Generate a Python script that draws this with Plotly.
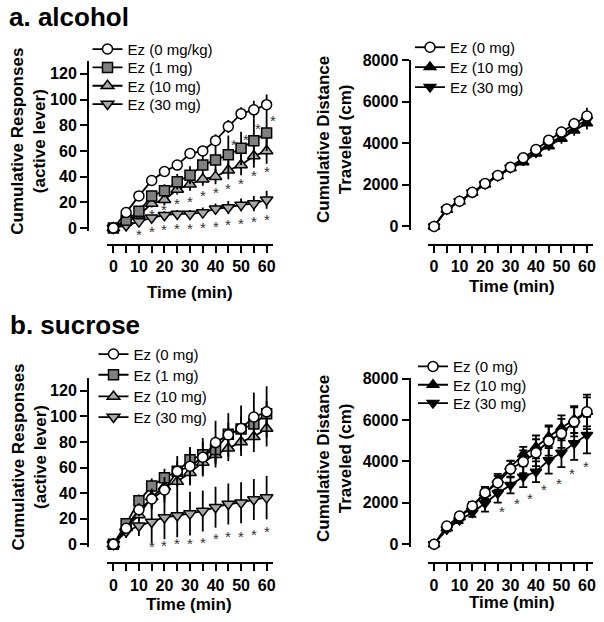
import plotly.graph_objects as go

# ---------------- data ----------------
times = [0, 5, 10, 15, 20, 25, 30, 35, 40, 45, 50, 55, 60]

# a. alcohol - cumulative responses (active lever)
alc_resp_0 = [0, 12, 25, 37, 44, 49, 58, 60, 68, 79, 89, 92, 96]
alc_resp_1 = [0, 6, 13, 25, 29, 36, 41, 49, 53, 57, 62, 68, 74]
alc_resp_10 = [0, 5, 10, 19, 22, 30, 34, 38, 40, 45, 49, 56, 60]
alc_resp_30 = [0, 2, 5, 8, 10, 11, 11, 12, 15, 16, 18, 19, 22]
alc_resp_0_sem = [0, 2, 3, 3, 3, 3, 3, 4, 5, 5, 5, 7, 8]
alc_resp_1_sem = [0, 2, 3, 4, 5, 6, 7, 8, 10, 15, 13, 17, 14]
alc_resp_10_sem = [0, 1, 2, 3, 4, 4, 5, 5, 6, 7, 8, 9, 10]
alc_resp_30_sem = [0, 1, 2, 2, 3, 3, 3, 4, 4, 5, 5, 6, 7]
alc_star_hi_t = [47.1, 52.0, 56.8, 62.5]
alc_star_hi_v = [67.8, 72.0, 80.5, 87.0]
alc_star_10_t = [15, 20, 25, 30, 35, 40, 45, 50, 55, 60]
alc_star_10_v = [14.0, 17.8, 22.1, 23.8, 28.4, 31.0, 34.1, 37.4, 43.8, 47.3]
alc_star_30_t = [10, 15, 20, 25, 30, 35, 40, 45, 50, 55, 60]
alc_star_30_v = [-1.8, 0.8, 2.2, 3.1, 3.1, 3.6, 4.6, 5.7, 7.0, 8.3, 9.8]

# a. alcohol - cumulative distance (cm)
alc_dist_0 = [0, 840, 1210, 1640, 2060, 2450, 2850, 3300, 3700, 4150, 4540, 4940, 5310]
alc_dist_10 = [0, 800, 1200, 1620, 2020, 2420, 2800, 3090, 3510, 3860, 4220, 4620, 4960]
alc_dist_30 = [0, 820, 1210, 1630, 2040, 2430, 2820, 3220, 3570, 3950, 4350, 4800, 5120]
alc_dist_0_sem = [0, 80, 100, 120, 140, 150, 170, 190, 210, 230, 260, 290, 400]
alc_dist_10_sem = [0, 70, 90, 110, 130, 140, 160, 180, 200, 220, 240, 260, 300]
alc_dist_30_sem = [0, 70, 90, 110, 130, 140, 160, 180, 200, 220, 240, 260, 300]

# b. sucrose - cumulative responses (active lever)
suc_resp_0 = [0, 12.5, 27, 35.5, 42.5, 57, 61, 68, 79.5, 85.5, 90.5, 99.5, 103.5]
suc_resp_1 = [0, 16, 34, 45.5, 52, 57, 66, 70, 74, 86, 90, 94, 102]
suc_resp_10 = [0, 13, 23, 37, 45, 49, 56, 64, 70, 75, 80, 84, 90.5]
suc_resp_30 = [0, 10, 14.5, 17.5, 21, 22.5, 24, 26, 29, 31.5, 32.5, 35, 36.5]
suc_resp_0_sem = [0, 3, 5, 8, 10, 12, 14, 15, 17, 17, 18, 19, 20]
suc_resp_1_sem = [0, 3, 5, 6, 7, 8, 10, 10, 10, 9, 10, 10, 10]
suc_resp_10_sem = [0, 3, 5, 8, 9, 10, 10, 10, 10, 10, 11, 12, 14]
suc_resp_30_sem = [0, 5, 8, 17, 17, 17, 17, 16, 16, 16, 16, 16, 17]
suc_star_30_t = [15, 20, 25, 30, 35, 40, 45, 50, 55, 60]
suc_star_30_v = [1.3, 2.6, 3.4, 3.9, 4.7, 7.3, 9.4, 9.4, 11.2, 13.0]

# b. sucrose - cumulative distance (cm)
suc_dist_0 = [0, 880, 1360, 1850, 2490, 2970, 3630, 3980, 4420, 4980, 5350, 5910, 6390]
suc_dist_10 = [0, 770, 1300, 1820, 2460, 3100, 3740, 4350, 4700, 5190, 5620, 6020, 6390]
suc_dist_30 = [0, 720, 1170, 1530, 1980, 2460, 2860, 3260, 3500, 4060, 4420, 4870, 5270]
suc_dist_0_sem = [0, 100, 150, 200, 280, 330, 400, 550, 650, 700, 700, 700, 830]
suc_dist_10_sem = [0, 100, 150, 200, 280, 300, 300, 350, 550, 550, 600, 650, 700]
suc_dist_30_sem = [0, 100, 150, 200, 400, 450, 400, 500, 500, 650, 700, 800, 880]
suc_dstar_t = [26.5, 32.6, 37.8, 43.3, 48.9, 54.1, 59.7]
suc_dstar_v = [1770, 2140, 2410, 2860, 3150, 3610, 3940]

# ---------------- layout helpers ----------------
FONT = "Arial, Liberation Sans, sans-serif"
W, H = 604, 622


def px(x):
    return x / W


def py(y):
    return 1 - y / H


fig = go.Figure()
legends = {}
_leg_count = [0]


def add_series(ax, lx, ly, name, y, err, symbol, fill, size, capw):
    _leg_count[0] += 1
    n = _leg_count[0]
    key = "legend" if n == 1 else "legend%d" % n
    legends[key] = dict(x=px(lx - 20), y=py(ly), xanchor="left", yanchor="middle",
                        bgcolor="rgba(0,0,0,0)", itemwidth=30,
                        font=dict(family=FONT, size=15, color="black"))
    fig.add_trace(go.Scatter(
        x=times, y=y, name=name, mode="lines+markers",
        xaxis="x" + ax, yaxis="y" + ax, legend=key,
        line=dict(color="black", width=1.8),
        marker=dict(symbol=symbol, size=size, color=fill,
                    line=dict(color="black", width=1.5)),
        error_y=dict(type="data", array=err, visible=True, color="black",
                     thickness=1.8, width=capw),
        cliponaxis=False,
    ))


def add_stars(ax, ts, vs):
    for t, v in zip(ts, vs):
        fig.add_annotation(x=t, y=v, xref="x" + ax, yref="y" + ax, text="*",
                           showarrow=False, yshift=-4,
                           font=dict(family=FONT, size=15, color="#333"))


GRAY_SQ = "#808080"
GRAY_TRI = "#a8a8a8"

# Top-left (drawn back to front)
add_series("", 107.5, 104.3, "Ez (30 mg)", alc_resp_30, alc_resp_30_sem, "triangle-down", GRAY_TRI, 11, 0)
add_series("", 107.5, 86.0, "Ez (10 mg)", alc_resp_10, alc_resp_10_sem, "triangle-up", GRAY_TRI, 11, 0)
add_series("", 107.5, 67.7, "Ez (1 mg)", alc_resp_1, alc_resp_1_sem, "square", GRAY_SQ, 10, 0)
add_series("", 107.5, 49.3, "Ez (0 mg/kg)", alc_resp_0, alc_resp_0_sem, "circle", "white", 10, 0)
add_stars("", alc_star_hi_t, alc_star_hi_v)
add_stars("", alc_star_10_t, alc_star_10_v)
add_stars("", alc_star_30_t, alc_star_30_v)

# Top-right
add_series("2", 430, 87.3, "Ez (30 mg)", alc_dist_30, alc_dist_30_sem, "triangle-down", "black", 10, 0)
add_series("2", 430, 67.3, "Ez (10 mg)", alc_dist_10, alc_dist_10_sem, "triangle-up", "black", 10, 0)
add_series("2", 430, 47.5, "Ez (0 mg)", alc_dist_0, alc_dist_0_sem, "circle", "white", 10, 0)

# Bottom-left
add_series("3", 113.5, 417.3, "Ez (30 mg)", suc_resp_30, suc_resp_30_sem, "triangle-down", GRAY_TRI, 11, 0)
add_series("3", 113.5, 396.7, "Ez (10 mg)", suc_resp_10, suc_resp_10_sem, "triangle-up", GRAY_TRI, 11, 0)
add_series("3", 113.5, 375.0, "Ez (1 mg)", suc_resp_1, suc_resp_1_sem, "square", GRAY_SQ, 10, 0)
add_series("3", 113.5, 354.3, "Ez (0 mg)", suc_resp_0, suc_resp_0_sem, "circle", "white", 10, 0)
add_stars("3", suc_star_30_t, suc_star_30_v)

# Bottom-right
add_series("4", 433, 403.3, "Ez (30 mg)", suc_dist_30, suc_dist_30_sem, "triangle-down", "black", 10, 4)
add_series("4", 433, 385.0, "Ez (10 mg)", suc_dist_10, suc_dist_10_sem, "triangle-up", "black", 10, 4)
add_series("4", 433, 366.7, "Ez (0 mg)", suc_dist_0, suc_dist_0_sem, "circle", "white", 10, 4)
add_stars("4", suc_dstar_t, suc_dstar_v)

tickfont = dict(family=FONT, size=16, color="black", weight="bold")


def xaxis(x0, x1, ypos):
    return dict(domain=[px(x0), px(x1)], anchor="free", position=py(ypos),
                range=[-2.5, 62.5], tickmode="linear", tick0=0, dtick=10,
                ticks="outside", ticklen=7, tickwidth=2, tickcolor="black",
                showline=True, linewidth=2, linecolor="black", automargin=False,
                showgrid=False, zeroline=False, tickfont=tickfont,
                minor=dict(tick0=0, dtick=5, ticks="outside", ticklen=7,
                           tickwidth=2, tickcolor="black", showgrid=False))


def yaxis(ytop, ybot, xpos, rng, dtick):
    return dict(domain=[py(ybot), py(ytop)], anchor="free", position=px(xpos),
                range=rng, tickmode="linear", tick0=0, dtick=dtick,
                ticks="outside", ticklen=7, tickwidth=2, tickcolor="black",
                showline=True, linewidth=2, linecolor="black", automargin=False,
                showgrid=False, zeroline=False, tickfont=tickfont)


fig.update_layout(
    width=W, height=H, margin=dict(l=0, r=0, t=0, b=0, autoexpand=False),
    paper_bgcolor="white", plot_bgcolor="white",
    font=dict(family=FONT, color="black"),
    xaxis=xaxis(107, 273, 245),
    yaxis=yaxis(61, 230.6, 88, [-2, 130], 20),
    xaxis2=xaxis(427.7, 593.3, 245),
    yaxis2=yaxis(60, 229.5, 409.5, [-150, 8010], 2000),
    xaxis3=xaxis(107, 273, 563.3),
    yaxis3=yaxis(377.9, 546.9, 88, [-2, 130], 20),
    xaxis4=xaxis(427.7, 593.3, 563.3),
    yaxis4=yaxis(378.3, 547.4, 409.5, [-150, 8010], 2000),
    showlegend=True,
    **legends,
)


def text(x, y, s, size, angle=0, xanchor="center"):
    fig.add_annotation(x=px(x), y=py(y), xref="paper", yref="paper", text=s,
                       showarrow=False, textangle=angle, xanchor=xanchor,
                       yanchor="middle",
                       font=dict(family=FONT, size=size, color="black", weight="bold"))


text(7, 17, "a. alcohol", 26, xanchor="left")
text(8, 325, "b. sucrose", 26, xanchor="left")
text(190, 292, "Time (min)", 17)
text(511.7, 286.7, "Time (min)", 17)
text(189, 604, "Time (min)", 17)
text(511.7, 602, "Time (min)", 17)
text(29, 141.7, "Cumulative Responses<br>(active lever)", 17, angle=-90)
text(335, 140, "Cumulative Distance<br>Traveled (cm)", 17, angle=-90)
text(29, 457.5, "Cumulative Responses<br>(active lever)", 17, angle=-90)
text(335, 459, "Cumulative Distance<br>Traveled (cm)", 17, angle=-90)

fig.write_html("out.html",
               config={"displayModeBar": False},
               post_script="document.body.style.margin='0';document.body.style.overflow='hidden';")
